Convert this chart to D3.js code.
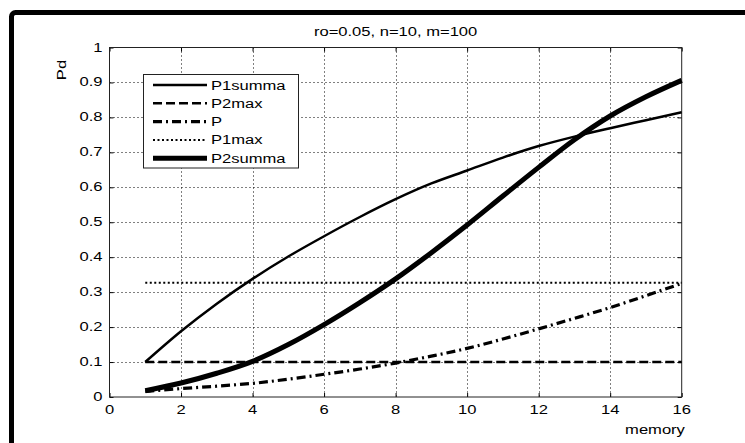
<!DOCTYPE html>
<html><head><meta charset="utf-8">
<script src="https://cdn.jsdelivr.net/npm/d3@7"></script>
<style>body{margin:0;background:#fff}svg{display:block}text{font-family:"Liberation Sans",Arial,sans-serif;fill:#000}</style>
</head><body>
<svg id="c" width="745" height="443"></svg>
<script>
const memory = [1,2,3,4,5,6,7,8,9,10,11,12,13,14,15,16];
const P1summa = [0.10,0.188,0.267,0.338,0.402,0.460,0.515,0.566,0.611,0.648,0.685,0.718,0.745,0.769,0.792,0.815];
const P2max   = [0.10,0.10,0.10,0.10,0.10,0.10,0.10,0.10,0.10,0.10,0.10,0.10,0.10,0.10,0.10,0.10];
const P       = [0.016,0.024,0.031,0.039,0.051,0.065,0.080,0.097,0.117,0.139,0.166,0.195,0.225,0.256,0.290,0.325];
const P1max   = [0.327,0.327,0.327,0.327,0.327,0.327,0.327,0.327,0.327,0.327,0.327,0.327,0.327,0.327,0.327,0.327];
const P2summa = [0.018,0.040,0.068,0.102,0.150,0.207,0.270,0.338,0.413,0.492,0.575,0.657,0.736,0.804,0.859,0.906];
const xTicks = [0,2,4,6,8,10,12,14,16];
const yTicks = [0,0.1,0.2,0.3,0.4,0.5,0.6,0.7,0.8,0.9,1];
const title = "ro=0.05, n=10, m=100";
const xLabel = "memory", yLabel = "Pd";

const svg = d3.select("#c");
const SX = 1.38, FS = 12;
function txt(x, y, s, anchor, rot) {
  const g = svg.append("g").attr("transform", `translate(${x},${y})` + (rot ? ` rotate(${rot})` : "") + ` scale(${SX},1)`);
  g.append("text").attr("text-anchor", anchor).attr("font-size", FS).text(s);
}
// outer frame
svg.append("rect").attr("x", 11.5).attr("y", 12.5).attr("width", 900).attr("height", 600)
  .attr("rx", 4).attr("fill", "none").attr("stroke", "#000").attr("stroke-width", 5);

const L = 109.5, R = 681.7, T = 47.5, B = 397;
const x = d3.scaleLinear().domain([0,16]).range([L,R]);
const y = d3.scaleLinear().domain([0,1]).range([B,T]);

// grid
const grid = svg.append("g").attr("stroke", "#000").attr("stroke-width", 1).attr("stroke-dasharray", "1,3");
xTicks.slice(1,-1).forEach(t => grid.append("line").attr("x1", Math.round(x(t))+0.5).attr("x2", Math.round(x(t))+0.5).attr("y1", T).attr("y2", B));
yTicks.slice(1,-1).forEach(t => grid.append("line").attr("y1", Math.round(y(t))+0.5).attr("y2", Math.round(y(t))+0.5).attr("x1", L).attr("x2", R));

// axes with inward ticks
const ax = svg.append("g");
ax.append("g").attr("transform", `translate(0,${B})`).call(d3.axisBottom(x).tickValues(xTicks).tickSize(-4).tickFormat(()=>"")).call(g=>g.select(".domain").remove());
ax.append("g").attr("transform", `translate(0,${T})`).call(d3.axisTop(x).tickValues(xTicks).tickSize(-4).tickFormat(()=>"")).call(g=>g.select(".domain").remove());
ax.append("g").attr("transform", `translate(${L},0)`).call(d3.axisLeft(y).tickValues(yTicks).tickSize(-4).tickFormat(()=>"")).call(g=>g.select(".domain").remove());
ax.append("g").attr("transform", `translate(${R},0)`).call(d3.axisRight(y).tickValues(yTicks).tickSize(-4).tickFormat(()=>"")).call(g=>g.select(".domain").remove());
ax.selectAll("line").attr("stroke", "#000");
svg.append("rect").attr("x", L).attr("y", T).attr("width", R-L).attr("height", B-T).attr("fill", "none").attr("stroke", "#222").attr("stroke-width", 1);

// tick labels
xTicks.forEach(t => txt(x(t), B+17, String(t), "middle"));
yTicks.forEach(t => txt(L-7, y(t)+4, String(t), "end"));
txt((L+R)/2, 36, title, "middle");
txt(655, 434, xLabel, "middle");
txt(66, 70, yLabel, "middle", -90);

// series
const series = [
  {name:"P1summa", v:P1summa, w:2.5, dash:null},
  {name:"P2max", v:P2max, w:2.5, dash:"9,4"},
  {name:"P", v:P, w:3.2, dash:"9,4,2,4"},
  {name:"P1max", v:P1max, w:2, dash:"2,2.5"},
  {name:"P2summa", v:P2summa, w:5, dash:null}
];
const line = d3.line().x((d,i)=>x(memory[i])).y(d=>y(d)).curve(d3.curveMonotoneX);
series.forEach(s => {
  svg.append("path").attr("d", line(s.v)).attr("fill","none").attr("stroke","#000")
    .attr("stroke-width", s.w).attr("stroke-dasharray", s.dash);
});

// legend
const lg = svg.append("g");
lg.append("rect").attr("x", 143.5).attr("y", 74.5).attr("width", 155).attr("height", 93.5).attr("fill","#fff").attr("stroke","#222").attr("stroke-width",1);
series.forEach((s,i) => {
  const yy = 85 + i*18.3;
  lg.append("line").attr("x1",153).attr("x2",207).attr("y1",yy).attr("y2",yy).attr("stroke","#000").attr("stroke-width",s.w).attr("stroke-dasharray",s.dash);
  txt(211, yy+4.5, s.name, "start");
});
</script>
</body></html>
